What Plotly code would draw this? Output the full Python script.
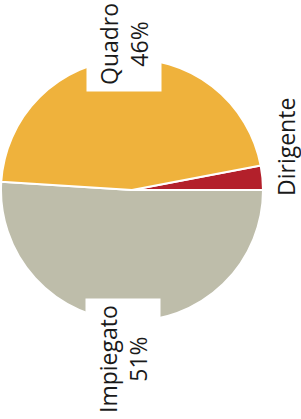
import plotly.graph_objects as go

categories = ["Impiegato", "Dirigente", "Quadro"]
values = [51, 3, 46]
colors = ["#BEBDAA", "#B3202B", "#EFB23C"]

fig = go.Figure(go.Pie(
    labels=categories,
    values=values,
    sort=False,
    direction="counterclockwise",
    rotation=90,
    marker=dict(colors=colors, line=dict(color="white", width=2)),
    textinfo="none",
    hoverinfo="label+percent",
    showlegend=False,
    domain=dict(x=[1/301, 263/301], y=[1-321/419, 1-59/419]),
))

total = sum(values)
pct = {c: round(v * 100 / total) for c, v in zip(categories, values)}

font = dict(family="Open Sans", size=23, color="#1a1a1a")
common = dict(xref="paper", yref="paper", xanchor="center", yanchor="middle",
              textangle=-90, showarrow=False, font=font)
fig.add_annotation(x=124/301, y=1-44/419, text=f"Quadro<br>{pct['Quadro']}%",
                   bgcolor="white", borderpad=6, **common)
fig.add_annotation(x=123/301, y=1-359/419, text=f"Impiegato<br>{pct['Impiegato']}%",
                   bgcolor="white", borderpad=6, **common)
fig.add_annotation(x=286/301, y=1-147/419, text="Dirigente", borderpad=0, **common)

fig.update_layout(width=301, height=419, margin=dict(l=0, r=0, t=0, b=0),
                  paper_bgcolor="white", plot_bgcolor="white")
fig.write_html("out.html", config={"displayModeBar": False},
               post_script="document.body.style.margin='0';document.body.style.overflow='hidden';")
